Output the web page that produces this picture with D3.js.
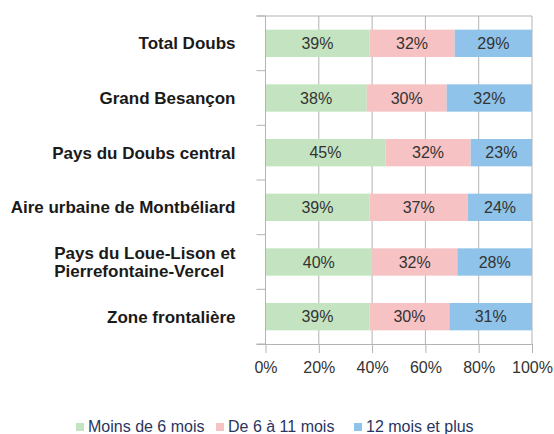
<!DOCTYPE html>
<html>
<head>
<meta charset="utf-8">
<script src="https://cdn.jsdelivr.net/npm/d3@7"></script>
<style>
  body { margin: 0; background: #fff; }
  text { font-family: "Liberation Sans", Arial, sans-serif; }
</style>
</head>
<body>
<div id="chart"></div>
<script>
// Data
var categories = [
  "Total Doubs",
  "Grand Besançon",
  "Pays du Doubs central",
  "Aire urbaine de Montbéliard",
  "Pays du Loue-Lison et|Pierrefontaine-Vercel",
  "Zone frontalière"
];
var seriesNames = ["Moins de 6 mois", "De 6 à 11 mois", "12 mois et plus"];
var moins6 = [39, 38, 45, 39, 40, 39];
var de6a11 = [32, 30, 32, 37, 32, 30];
var plus12 = [29, 32, 23, 24, 28, 31];
var xTicks = [0, 20, 40, 60, 80, 100];

var colors = ["#c4e3c0", "#f7c2c3", "#8fc3e9"];

var svgWidth = 554;
var svgHeight = 434;

var margin = { top: 16, right: 22, bottom: 90, left: 265.5 };
var chartWidth = svgWidth - margin.left - margin.right;
var chartHeight = svgHeight - margin.top - margin.bottom;

var svg = d3.select("#chart")
  .append("svg")
  .attr("width", svgWidth)
  .attr("height", svgHeight);

var chartGroup = svg.append("g")
  .attr("transform", `translate(${margin.left}, ${margin.top})`);

// build rows for stacking
var rows = categories.map(function(c, i) {
  return { cat: c, s0: moins6[i], s1: de6a11[i], s2: plus12[i] };
});
var stack = d3.stack().keys(["s0", "s1", "s2"]);
var stacked = stack(rows);

var x = d3.scaleLinear().domain([0, 100]).range([0, chartWidth]);
var y = d3.scaleBand()
  .domain(categories)
  .range([0, chartHeight])
  .paddingInner(0.5)
  .paddingOuter(0.25);

// vertical grid lines
chartGroup.append("g")
  .selectAll("line")
  .data(xTicks)
  .enter()
  .append("line")
  .attr("x1", d => x(d))
  .attr("x2", d => x(d))
  .attr("y1", 0)
  .attr("y2", chartHeight)
  .attr("stroke", "#b3b3b3")
  .attr("stroke-width", 1);

// top border
chartGroup.append("line")
  .attr("x1", -9).attr("x2", chartWidth)
  .attr("y1", 0).attr("y2", 0)
  .attr("stroke", "#b3b3b3");

// bars
chartGroup.selectAll("g.series")
  .data(stacked)
  .enter()
  .append("g")
  .attr("class", "series")
  .attr("fill", (d, i) => colors[i])
  .selectAll("rect")
  .data(d => d)
  .enter()
  .append("rect")
  .attr("x", d => x(d[0]))
  .attr("width", d => x(d[1]) - x(d[0]))
  .attr("y", d => y(d.data.cat))
  .attr("height", y.bandwidth());

// value labels
stacked.forEach(function(layer) {
  chartGroup.append("g")
    .selectAll("text")
    .data(layer)
    .enter()
    .append("text")
    .attr("x", d => x((d[0] + d[1]) / 2))
    .attr("y", d => y(d.data.cat) + y.bandwidth() / 2)
    .attr("dy", "0.36em")
    .attr("text-anchor", "middle")
    .style("font-size", "16px")
    .style("fill", "#333")
    .text(d => (d[1] - d[0]) + "%");
});

// left axis line and category separators
chartGroup.append("line")
  .attr("x1", 0).attr("x2", 0)
  .attr("y1", 0).attr("y2", chartHeight)
  .attr("stroke", "#b3b3b3");

var step = y.step();
var seps = d3.range(categories.length + 1).map(i => i === 0 ? 0 : (i === categories.length ? chartHeight : y(categories[i]) - step * 0.25));
chartGroup.append("g")
  .selectAll("line")
  .data(seps)
  .enter()
  .append("line")
  .attr("x1", -9).attr("x2", 0)
  .attr("y1", d => d).attr("y2", d => d)
  .attr("stroke", "#b3b3b3");

// bottom axis
var bottomAxis = d3.axisBottom(x)
  .tickValues(xTicks)
  .tickSize(9)
  .tickPadding(9)
  .tickFormat(d => d + "%");

var xAxisG = chartGroup.append("g")
  .attr("transform", `translate(0, ${chartHeight})`)
  .call(bottomAxis);
xAxisG.select(".domain").attr("stroke", "#b3b3b3").attr("d", `M-9,0.5H${chartWidth}`);
xAxisG.selectAll(".tick line").attr("stroke", "#b3b3b3");
xAxisG.selectAll(".tick text")
  .style("font-size", "16px")
  .style("font-family", "'Liberation Sans', Arial, sans-serif")
  .style("fill", "#333");

// category labels
var catLabels = chartGroup.append("g")
  .selectAll("text")
  .data(categories)
  .enter()
  .append("text")
  .attr("text-anchor", "end")
  .attr("x", -30)
  .attr("y", d => y(d) + y.bandwidth() / 2)
  .style("font-size", "17px")
  .style("font-weight", "bold")
  .style("fill", "#1a1a1a");

catLabels.each(function(d) {
  var parts = d.split("|");
  var t = d3.select(this);
  if (parts.length === 1) {
    t.attr("dy", "0.36em").text(d);
  } else {
    // two lines, left aligned as a block that ends at the axis gap
    t.attr("text-anchor", "start");
    var s1 = t.append("tspan").attr("dy", "-0.17em").text(parts[0]);
    var s2 = t.append("tspan").attr("dy", "1.06em").text(parts[1]);
    var w = Math.max(s1.node().getComputedTextLength(), s2.node().getComputedTextLength());
    s1.attr("x", -30 - w);
    s2.attr("x", -30 - w);
  }
});

// legend
var legendX = [76, 216, 354];
var legend = svg.append("g")
  .selectAll("g")
  .data(seriesNames)
  .enter()
  .append("g")
  .attr("transform", (d, i) => `translate(${legendX[i]}, 423)`);

legend.append("rect")
  .attr("width", 8)
  .attr("height", 8)
  .attr("fill", (d, i) => colors[i]);

legend.append("text")
  .attr("x", 12)
  .attr("y", 4)
  .attr("dy", "0.34em")
  .style("font-size", "16px")
  .style("fill", "#2a3560")
  .text(d => d);
</script>
</body>
</html>
